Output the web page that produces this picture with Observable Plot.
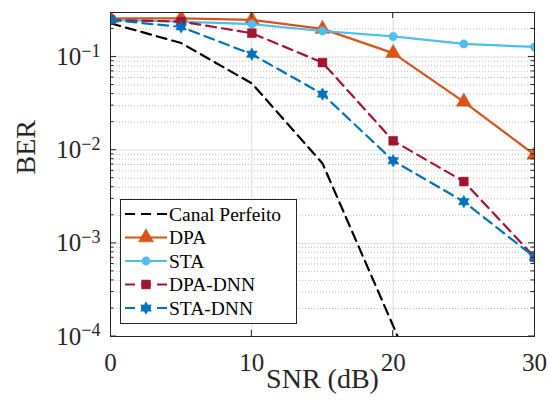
<!DOCTYPE html>
<html><head><meta charset="utf-8">
<script src="https://cdn.jsdelivr.net/npm/d3@7"></script>
<script src="https://cdn.jsdelivr.net/npm/@observablehq/plot@0.6"></script>
<style>body{margin:0;background:#fff}</style>
</head><body><div id="chart"></div>
<script>
const snr = [0, 5, 10, 15, 20, 25, 30];
const perfeito = [0.23, 0.141, 0.052, 0.0072, 0.00013, 0.000002, 0.00000003];
const dpa = [0.26, 0.26, 0.25, 0.20, 0.11, 0.033, 0.0089];
const sta = [0.25, 0.24, 0.225, 0.19, 0.166, 0.138, 0.128];
const dpaDnn = [0.25, 0.24, 0.18, 0.087, 0.0126, 0.0046, 0.00071];
const staDnn = [0.25, 0.21, 0.107, 0.040, 0.0077, 0.0028, 0.00071];
const seriesNames = ["Canal Perfeito", "DPA", "STA", "DPA-DNN", "STA-DNN"];
const xTicks = [0, 10, 20, 30];
const yTicks = [1e-4, 1e-3, 1e-2, 1e-1];

const hexagram = {draw(ctx, size) {
  const R = Math.sqrt(size / Math.PI) * 1.25, r = R / Math.sqrt(3);
  for (let i = 0; i < 12; i++) {
    const a = -Math.PI / 2 + i * Math.PI / 6, rr = i % 2 === 0 ? R : r;
    const x = rr * Math.cos(a), y = rr * Math.sin(a);
    i ? ctx.lineTo(x, y) : ctx.moveTo(x, y);
  }
  ctx.closePath();
}};

const styles = [
  {color: "#000000", dash: "10,6", symbol: null, r: 0},
  {color: "#D95319", dash: null, symbol: "triangle", r: 5.6},
  {color: "#4DBEEE", dash: null, symbol: "circle", r: 4.2},
  {color: "#A2142F", dash: "10,6", symbol: "square", r: 5.0},
  {color: "#0072BD", dash: "10,6", symbol: hexagram, r: 5.0}
];
const values = [perfeito, dpa, sta, dpaDnn, staDnn];
const series = seriesNames.map((name, i) => snr.map((s, j) => ({snr: s, ber: values[i][j], name})));

const minorY = [];
for (let e = -4; e <= -1; e++) for (let m = 2; m <= 9; m++) { const v = m * 10 ** e; if (v <= 0.3) minorY.push(v); }

const marks = [
  Plot.gridY(minorY, {stroke: "#b0b0b0", strokeOpacity: 0.85, strokeDasharray: "1,2"}),
  Plot.gridY(yTicks, {stroke: "#dcdcdc", strokeOpacity: 1}),
  Plot.gridX([10, 20], {stroke: "#dcdcdc", strokeOpacity: 1}),
  Plot.axisX({ticks: xTicks, tickSize: 0, tickPadding: 17, fontSize: 25, label: null, tickFormat: d => String(d)}),
  Plot.axisY({ticks: yTicks, tickSize: 0, tickPadding: 10, fontSize: 25, label: null, tickFormat: d => "10^" + Math.round(Math.log10(d))}),
  Plot.text(["SNR (dB)"], {frameAnchor: "bottom", dy: 43, fontSize: 28, lineAnchor: "middle", fill: "#262626"}),
  Plot.text(["BER"], {frameAnchor: "left", dx: -84, rotate: -90, fontSize: 28, fill: "#262626"})
];
series.forEach((data, i) => {
  const st = styles[i];
  marks.push(Plot.line(data, {x: "snr", y: "ber", stroke: st.color, strokeWidth: 2.2, strokeDasharray: st.dash, clip: true}));
  if (st.symbol) marks.push(Plot.dot(data, {x: "snr", y: "ber", symbol: () => st.symbol, r: st.r, fill: st.color, stroke: st.color, strokeWidth: 0.5, clip: true}));
});
marks.push(Plot.frame({stroke: "#262626", strokeWidth: 1}));

const chart = Plot.plot({
  width: 550, height: 412,
  marginLeft: 110, marginRight: 16, marginTop: 12, marginBottom: 76,
  style: {fontFamily: "'Liberation Serif', serif", background: "#fff", color: "#262626"},
  x: {domain: [0, 30]},
  y: {type: "log", domain: [1e-4, 0.3]},
  symbol: {type: "identity"},
  marks
});
document.getElementById("chart").appendChild(chart);

// superscript exponents
d3.select(chart).selectAll('g[aria-label="y-axis tick label"] text').each(function() {
  const t = d3.select(this);
  const [base, exp] = t.text().split("^");
  t.text(base);
  t.append("tspan").attr("dy", "-0.45em").attr("font-size", "0.72em").text(exp.replace("-", "\u2212"));
});

// inward ticks
const sx = chart.scale("x"), sy = chart.scale("y");
const svg = d3.select(chart);
const gt = svg.append("g").attr("stroke", "#262626").attr("stroke-width", 1);
const L = sx.apply(0), R = sx.apply(30), T = sy.apply(0.3), B = sy.apply(1e-4);
[10, 20].forEach(v => {
  const x = sx.apply(v);
  gt.append("line").attr("x1", x).attr("x2", x).attr("y1", B).attr("y2", B - 6);
  gt.append("line").attr("x1", x).attr("x2", x).attr("y1", T).attr("y2", T + 6);
});
yTicks.concat(minorY).forEach((v, k) => {
  const y = sy.apply(v), len = k < yTicks.length ? 6 : 3.5;
  gt.append("line").attr("x1", L).attr("x2", L + len).attr("y1", y).attr("y2", y);
  gt.append("line").attr("x1", R).attr("x2", R - len).attr("y1", y).attr("y2", y);
});

// legend
const lg = svg.append("g").attr("text-anchor", "start");
lg.append("rect").attr("x", 120.5).attr("y", 199.5).attr("width", 176).attr("height", 124)
  .attr("fill", "#fff").attr("stroke", "#262626").attr("stroke-width", 1);
seriesNames.forEach((name, i) => {
  const st = styles[i], y = 214 + i * 23.5;
  lg.append("line").attr("x1", 125).attr("x2", 167).attr("y1", y).attr("y2", y)
    .attr("stroke", st.color).attr("stroke-width", 2.2).attr("stroke-dasharray", st.dash);
  if (st.symbol) {
    const type = st.symbol === hexagram ? hexagram : {triangle: d3.symbolTriangle, circle: d3.symbolCircle, square: d3.symbolSquare}[st.symbol];
    lg.append("path").attr("transform", `translate(146,${y})`)
      .attr("d", d3.symbol(type, Math.PI * st.r * st.r)()).attr("fill", st.color).attr("stroke", st.color).attr("stroke-width", 0.5);
  }
  lg.append("text").attr("x", 169).attr("y", y).attr("dy", "0.35em").attr("font-size", 19.5)
    .attr("fill", "#000").attr("text-anchor", "start").text(name);
});
</script>
</body></html>
